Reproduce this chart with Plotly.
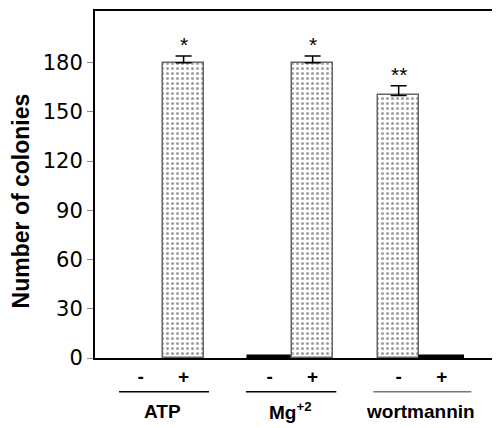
import plotly.graph_objects as go

# ---- data ----
treatment_signs = ["-", "+", "-", "+", "-", "+"]
positions = [0, 1, 3, 4, 6, 7]
colonies = [0, 180, 1.5, 180, 160, 1.5]
errors = [0, 4, 0, 4, 6, 0]
significance = ["", "*", "", "*", "**", ""]
group_names = ["ATP", "Mg<sup>+2</sup>", "wortmannin"]
group_centers = [0.52, 3.48, 6.5]
group_spans = [(-0.5, 1.59), (2.45, 4.55), (5.41, 7.69)]
y_ticks = [0, 30, 60, 90, 120, 150, 180]

fill_colors = ["white" if (v > 5 or v == 0) else "black" for v in colonies]
line_colors = ["#666666" if v > 5 else ("black" if v > 0 else "rgba(0,0,0,0)") for v in colonies]
shapes_pat = ["." if v > 5 else "" for v in colonies]
widths = [0.95 if v > 5 else 1.02 for v in colonies]

fig = go.Figure()
fig.add_trace(go.Bar(
    x=positions, y=colonies, width=widths,
    marker=dict(color=fill_colors,
                line=dict(color=line_colors, width=1.5),
                pattern=dict(shape=shapes_pat, fgcolor="black", bgcolor="white",
                             size=5, solidity=0.3, fillmode="overlay")),
    showlegend=False,
))

# error bars only where an error exists
ex = [p for p, e in zip(positions, errors) if e > 0]
ey = [v for v, e in zip(colonies, errors) if e > 0]
ee = [e for e in errors if e > 0]
fig.add_trace(go.Scatter(
    x=ex, y=ey, mode="markers", marker=dict(size=1, opacity=0),
    error_y=dict(type="data", array=ee, arrayminus=[0] * len(ee), symmetric=False,
                 color="black", thickness=1.5, width=8, visible=True),
    showlegend=False, hoverinfo="skip",
))

annotations = []
for xp, v, e, s in zip(positions, colonies, errors, significance):
    if s:
        annotations.append(dict(x=xp, y=v + e, xref="x", yref="y", text=s, showarrow=False,
                                yanchor="bottom", yshift=-2,
                                font=dict(family="Arial", size=21, color="black")))
for name, cx in zip(group_names, group_centers):
    annotations.append(dict(x=cx, y=-0.154, xref="x", yref="paper", text=name, showarrow=False,
                            xanchor="center", yanchor="middle",
                            font=dict(family="Arial", size=19, color="black", weight="bold")))
annotations.append(dict(x=-0.184, y=0.454, xref="paper", yref="paper", text="Number of colonies",
                        textangle=-90, showarrow=False, xanchor="center", yanchor="middle",
                        font=dict(family="Arial", size=23, color="black", weight="bold")))

shapes = []
gcolors = ["black", "black", "#777777"]
for (a, b), c in zip(group_spans, gcolors):
    shapes.append(dict(type="line", xref="x", yref="paper", x0=a, x1=b, y0=-0.097, y1=-0.097,
                       line=dict(color=c, width=1.5)))

# page body has an 8px default margin, so the figure is drawn 8px smaller and offset
fig.update_layout(
    width=492, height=420,
    margin=dict(l=87, r=8, t=1, b=70),
    plot_bgcolor="white", paper_bgcolor="white",
    annotations=annotations, shapes=shapes,
    bargap=0,
)
fig.update_xaxes(range=[-1.06, 8.17], tickmode="array", tickvals=positions, ticktext=treatment_signs,
                 showline=True, linecolor="black", linewidth=2, mirror=True, ticks="",
                 showgrid=False, zeroline=False,
                 tickfont=dict(family="Arial", size=19, color="black", weight="bold"))
fig.update_yaxes(range=[0, 211.5], tickmode="array", tickvals=y_ticks,
                 showline=True, linecolor="black", linewidth=2, mirror=True,
                 ticks="outside", ticklen=6, tickcolor="#888888", tickwidth=1,
                 showgrid=False, zeroline=False,
                 tickfont=dict(family="DejaVu Sans", size=21, color="black"))

fig.write_html("out.html")
